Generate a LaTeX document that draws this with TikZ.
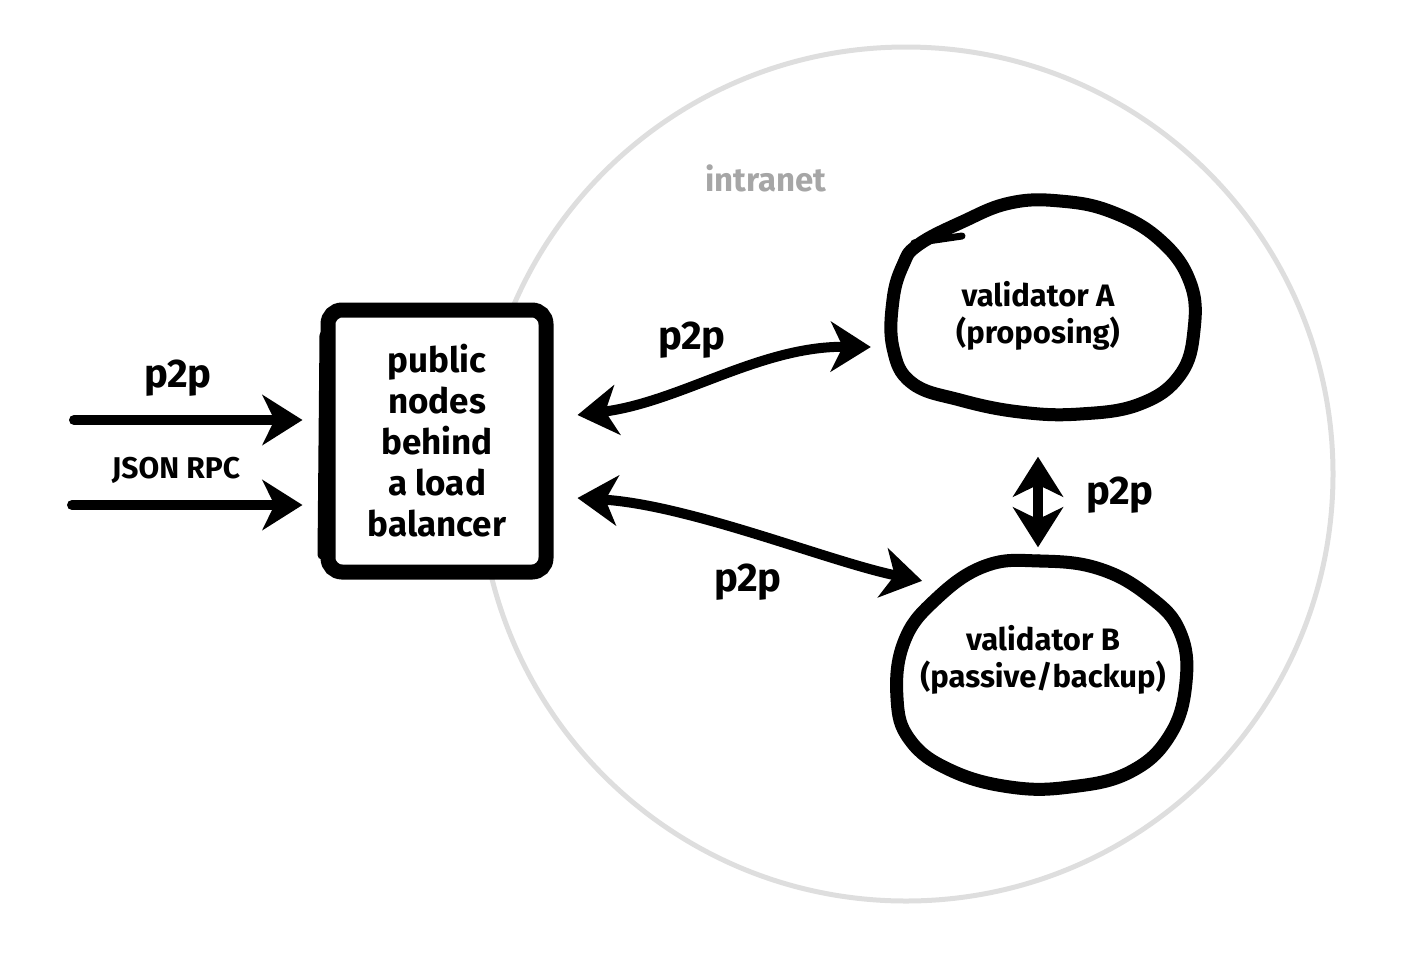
\documentclass[tikz,border=0pt]{standalone}
\usepackage{fontspec}
\setmainfont{Fira Sans}
\usetikzlibrary{arrows.meta,shapes.geometric}
\definecolor{ringgray}{HTML}{DEDEDE}
\definecolor{labelgray}{HTML}{A6A6A6}
\begin{document}
\begin{tikzpicture}[x=1pt,y=-1pt,
  lbl/.style={font=\fontsize{40}{44}\selectfont\bfseries, inner sep=0pt},
  smalllbl/.style={font=\fontsize{30}{34}\selectfont\bfseries, inner sep=0pt},
  boxnode/.style={draw, line width=15pt, rounded corners=14pt, minimum width=218pt, minimum height=262pt,
    align=center, font=\fontsize{35}{41}\selectfont\bfseries, fill=white},
  valnode/.style={ellipse, minimum width=300pt, minimum height=215pt, align=center,
    font=\fontsize{31}{37}\selectfont\bfseries, inner sep=0pt},
  blob/.style={line width=13pt, line join=round},
  conn/.style={line width=10pt, line cap=round, -{Stealth[length=40pt,width=50pt,inset=12pt]}},
  dbl/.style={line width=10pt, line cap=round, {Stealth[length=40pt,width=50pt,inset=12pt]}-{Stealth[length=40pt,width=50pt,inset=12pt]}}
]
\useasboundingbox (0,0) rectangle (1412,962);

% intranet ring
\draw[ringgray, line width=5pt] (906,474) circle[radius=427pt];
\node[smalllbl, text=labelgray, font=\fontsize{33}{36}\selectfont\bfseries] (intranet) at (766,178) {intranet};

% public nodes box
\node[boxnode] (pub) at (437,441) {public\\nodes\\behind\\a load\\balancer};
\draw[line width=9pt, line cap=round] (324,335) -- (322,555);

% validators
\node[valnode] (va) at (1038,316) {validator A\\(proposing)};
\draw[blob] plot[smooth cycle, tension=0.7] coordinates {
  (918,245) (962,222) (1010,203) (1060,201) (1112,212) (1160,240) (1190,282)
  (1194,330) (1180,375) (1140,404) (1080,414) (1020,412) (960,400) (912,383)
  (893,348) (893,300) (903,265)};
\draw[line width=7pt, line cap=round] (914,243) -- (962,236);

\node[valnode] (vb) at (1043,660) {validator B\\(passive/backup)};
\draw[blob] plot[smooth cycle, tension=0.7] coordinates {
  (985,566) (1040,561) (1100,569) (1150,597) (1180,632) (1186,682) (1170,735)
  (1130,772) (1070,787) (1010,787) (950,770) (910,740) (897,698) (904,642) (935,600)};
\draw[line width=7pt, line cap=round] (982,564) -- (1040,558);

% incoming arrows
\coordinate (in1) at (74,420);
\coordinate (in2) at (72,505);
\draw[conn, shorten >=18pt] (in1) -- (in1 -| pub.west);
\draw[conn, shorten >=18pt] (in2) -- (in2 -| pub.west);
\node[lbl] (l1) at (178,378) {p2p};
\node[smalllbl] (l2) at (176,470) {JSON RPC};

% p2p links
\draw[dbl] ([shift={(24,-26)}]pub.east) .. controls (680,402) and (760,346) .. ([shift={(-17,31)}]va.west);
\node[lbl] (l3) at (692,340) {p2p};

\draw[dbl] ([shift={(24,57)}]pub.east) .. controls (690,505) and (830,562) .. ([shift={(2,-3)}]vb.north west);
\node[lbl] (l4) at (748,582) {p2p};

\draw[dbl] ([shift={(0,33)}]va.south) -- ([shift={(-5,-5)}]vb.north);
\node[lbl] (l5) at (1120,495) {p2p};
\end{tikzpicture}
\end{document}
